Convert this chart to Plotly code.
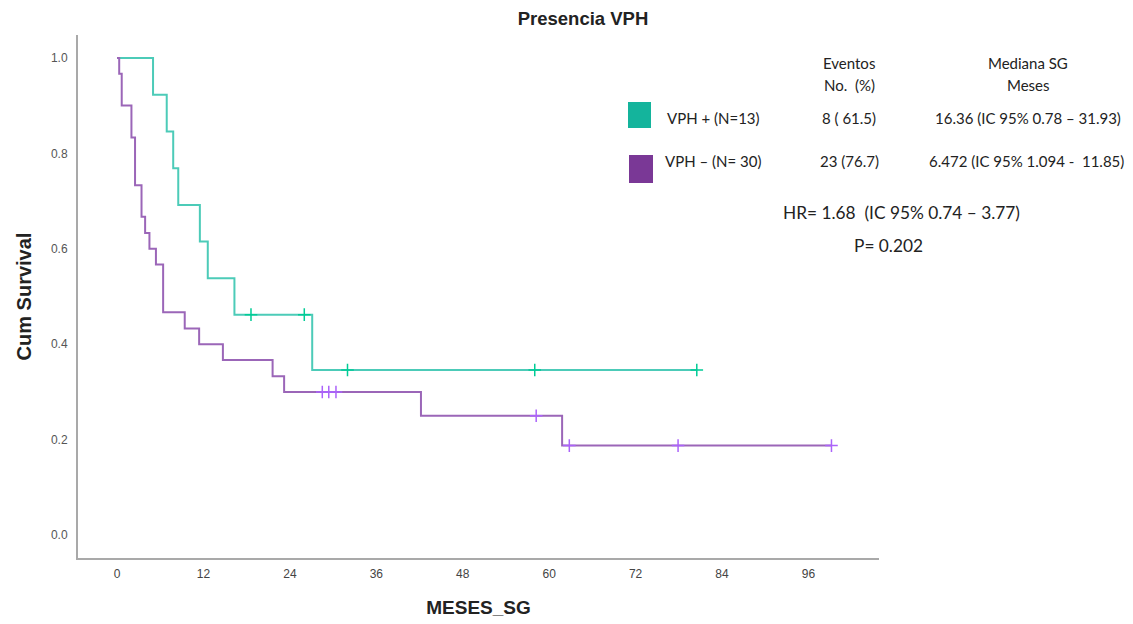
import plotly.graph_objects as go

# Step data
pos_times = [0, 5.0, 6.9, 7.8, 8.5, 11.5, 12.6, 16.3, 27.1, 80.5]
pos_surv = [1.0, 0.923, 0.846, 0.769, 0.692, 0.615, 0.538, 0.462, 0.346, 0.346]
pos_cens_t = [18.6, 26.0, 32.0, 58.0, 80.5]
pos_cens_s = [0.462, 0.462, 0.346, 0.346, 0.346]

neg_times = [0, 0.3, 0.65, 2.0, 2.5, 3.4, 3.9, 4.5, 5.4, 6.4, 9.4, 11.4, 14.7, 21.6, 23.2, 42.2, 61.8, 99.2]
neg_surv = [1.0, 0.967, 0.9, 0.833, 0.733, 0.667, 0.633, 0.6, 0.567, 0.467, 0.433, 0.4, 0.367, 0.333, 0.3, 0.25, 0.1875, 0.1875]
neg_cens_t = [28.5, 29.4, 30.4, 58.2, 62.8, 77.9, 99.2]
neg_cens_s = [0.3, 0.3, 0.3, 0.25, 0.1875, 0.1875, 0.1875]

x_ticks = [0, 12, 24, 36, 48, 60, 72, 84, 96]
y_ticks = [0.0, 0.2, 0.4, 0.6, 0.8, 1.0]

groups = ["VPH + (N=13)", "VPH – (N= 30)"]
eventos = ["8 ( 61.5)", "23 (76.7)"]
medianas = ["16.36 (IC 95% 0.78 – 31.93)", "6.472 (IC 95% 1.094 -  11.85)"]
hr_text = "HR= 1.68  (IC 95% 0.74 – 3.77)"
p_text = "P= 0.202"

TEAL_LINE = "#4ccbb8"
PURPLE_LINE = "#9b66b8"
TEAL_BOX = "#14b49c"
PURPLE_BOX = "#7a3896"

fig = go.Figure()
fig.add_trace(go.Scatter(x=pos_times, y=pos_surv, mode="lines", line=dict(color=TEAL_LINE, width=2, shape="hv"),
                         name=groups[0], showlegend=False))
fig.add_trace(go.Scatter(x=neg_times, y=neg_surv, mode="lines", line=dict(color=PURPLE_LINE, width=2, shape="hv"),
                         name=groups[1], showlegend=False))
fig.add_trace(go.Scatter(x=pos_cens_t, y=pos_cens_s, mode="markers",
                         marker=dict(symbol="cross-thin-open", size=9, line=dict(color=TEAL_LINE, width=1.5)),
                         showlegend=False))
fig.add_trace(go.Scatter(x=neg_cens_t, y=neg_cens_s, mode="markers",
                         marker=dict(symbol="cross-thin-open", size=9, line=dict(color=PURPLE_LINE, width=1.5)),
                         showlegend=False))

# plot-area edges in target-image pixels; page body has an 8px margin
OFF = 8
L, R, T, B = 78, 879, 35, 558
W, H = 1133 - OFF, 624 - OFF


def px(x):
    return (x - L) / (R - L)


def py(y):
    return (B - y) / (B - T)


font_txt = "Lato, 'Open Sans', sans-serif"
ann = []


def add(text, x, y, size=15, xanchor="center", color="#222"):
    ann.append(dict(text=text, x=px(x), y=py(y), xref="paper", yref="paper", showarrow=False,
                    xanchor=xanchor, yanchor="middle", font=dict(family=font_txt, size=size, color=color)))


add("Eventos", 849, 63)
add("No.  (%)", 849, 85)
add("Mediana SG", 1028, 63)
add("Meses", 1028, 85)
add(groups[0], 665, 118, xanchor="left")
add(groups[1], 663, 161, xanchor="left")
add(eventos[0], 849, 118)
add(eventos[1], 849, 161)
add(medianas[0], 1028, 118)
add(medianas[1], 1026, 161)
add(hr_text, 901, 212, size=17.3)
add(p_text, 888, 245, size=17.3)

shapes = [
    dict(type="rect", xref="paper", yref="paper", x0=px(628), x1=px(651), y0=py(128), y1=py(102),
         fillcolor=TEAL_BOX, line=dict(width=0)),
    dict(type="rect", xref="paper", yref="paper", x0=px(629), x1=px(653), y0=py(183), y1=py(155),
         fillcolor=PURPLE_BOX, line=dict(width=0)),
]

fig.update_layout(
    width=W, height=H,
    margin=dict(l=L - OFF, r=W - (R - OFF), t=T - OFF, b=H - (B - OFF), autoexpand=False),
    paper_bgcolor="white", plot_bgcolor="white",
    title=dict(text="<b>Presencia VPH</b>", x=(583 - OFF) / W, xanchor="center", y=1 - (19 - OFF) / H,
               yanchor="middle", font=dict(family="Liberation Sans, Arial", size=18.5, color="#222")),
    xaxis=dict(range=[-5.42, 105.8], tickvals=x_ticks, ticktext=[str(v) for v in x_ticks],
               showgrid=False, zeroline=False, showline=True, linecolor="#a9a9a9", linewidth=2,
               ticks="", ticklabelstandoff=4,
               tickfont=dict(family="Liberation Sans Narrow, Liberation Sans", size=12, color="#444"),
               title=dict(text="<b>MESES_SG</b>", standoff=20,
                          font=dict(family="Liberation Sans Narrow, Liberation Sans", size=19, color="#222"))),
    yaxis=dict(range=[-0.048, 1.048], tickvals=y_ticks, ticktext=["%.1f" % v for v in y_ticks],
               showgrid=False, zeroline=False, showline=True, linecolor="#a9a9a9", linewidth=2,
               ticks="", ticklabelstandoff=6,
               tickfont=dict(family="Liberation Sans", size=12, color="#555"),
               title=dict(text="<b>Cum Survival</b>", standoff=14,
                          font=dict(family="Liberation Sans", size=20, color="#222"))),
    annotations=ann,
    shapes=shapes,
)

fig.write_html("out.html")
